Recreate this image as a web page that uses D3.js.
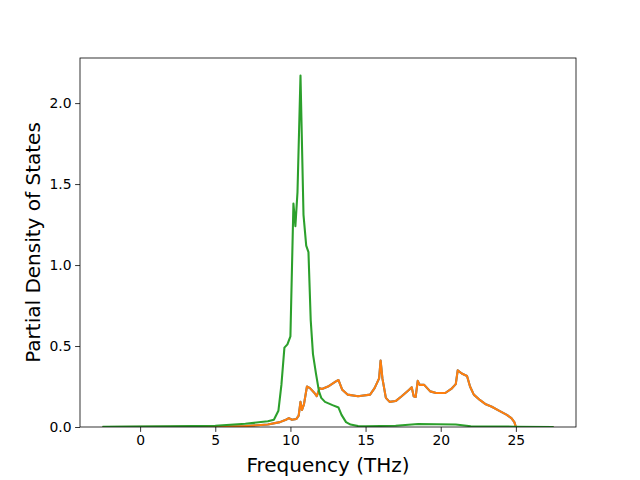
<!DOCTYPE html>
<html>
<head>
<meta charset="utf-8">
<script src="https://cdn.jsdelivr.net/npm/d3@7"></script>
<style>
  body { margin: 0; background: #fff; }
  svg text { font-family: "DejaVu Sans", sans-serif; fill: #000; }
</style>
</head>
<body>
<div id="chart"></div>
<script>
// frequency grid (THz) and partial DOS
var freqA = [-2.5, 2, 5, 7, 8.5, 9.3, 9.7, 9.9, 10.1, 10.4, 10.55, 10.67, 10.77, 10.9, 11.1, 11.3, 11.6, 11.75, 11.95, 12.1, 12.5, 13.0, 13.2, 13.45, 13.8, 14.5, 15.3, 15.6, 15.9, 16.0, 16.12, 16.35, 16.6, 17.0, 17.4, 17.9, 18.07, 18.2, 18.33, 18.47, 18.6, 18.9, 19.3, 19.7, 20.3, 20.7, 21.0, 21.13, 21.4, 21.75, 21.95, 22.2, 22.6, 23.0, 23.4, 23.9, 24.4, 24.7, 24.9, 25.0, 26, 27.5]
var pdosA = [0, 0.001, 0.003, 0.006, 0.015, 0.03, 0.045, 0.055, 0.045, 0.05, 0.07, 0.155, 0.105, 0.14, 0.25, 0.24, 0.21, 0.19, 0.24, 0.235, 0.25, 0.28, 0.29, 0.23, 0.2, 0.19, 0.2, 0.24, 0.3, 0.41, 0.3, 0.18, 0.155, 0.16, 0.19, 0.23, 0.245, 0.19, 0.185, 0.285, 0.26, 0.26, 0.22, 0.21, 0.21, 0.235, 0.265, 0.35, 0.33, 0.315, 0.25, 0.2, 0.167, 0.14, 0.125, 0.1, 0.075, 0.055, 0.03, 0, 0, 0]

var freqB = [-2.5, 2, 5, 7, 8.5, 8.9, 9.2, 9.4, 9.6, 9.8, 10.0, 10.2, 10.33, 10.47, 10.67, 10.87, 11.05, 11.2, 11.35, 11.5, 11.7, 11.9, 12.05, 12.3, 12.8, 13.2, 13.4, 13.7, 14.0, 14.5, 15.0, 17.0, 18.5, 21.0, 22.0, 25.0, 27.5]
var pdosB = [0.001, 0.004, 0.008, 0.02, 0.035, 0.045, 0.1, 0.26, 0.49, 0.51, 0.56, 1.38, 1.24, 1.45, 2.17, 1.31, 1.12, 1.08, 0.66, 0.45, 0.33, 0.22, 0.18, 0.155, 0.135, 0.12, 0.075, 0.03, 0.015, 0.006, 0.005, 0.008, 0.018, 0.015, 0.005, 0.002, 0]

var xTicks = [0, 5, 10, 15, 20, 25]
var yTicks = [0, 0.5, 1.0, 1.5, 2.0]

var colors = {
    blue: '#1f77b4',
    orange: '#ff7f0e',
    green: '#2ca02c'
}

var width = 640, height = 480,
    margins = {top: 58, right: 64, bottom: 53, left: 80},
    plotW = width - margins.left - margins.right,
    plotH = height - margins.top - margins.bottom

var svg = d3.select('#chart').append('svg')
    .attr('width', width)
    .attr('height', height)

var x = d3.scaleLinear().domain([-4, 29]).range([0, plotW])
var y = d3.scaleLinear().domain([0, 2.2785]).range([plotH, 0])

var g = svg.append('g')
    .attr('transform', 'translate(' + margins.left + ',' + margins.top + ')')

var clip = svg.append('clipPath').attr('id', 'clip')
    .append('rect').attr('width', plotW).attr('height', plotH)

var line = d3.line()
    .x(function(d) { return x(d[0]) })
    .y(function(d) { return y(d[1]) })

var seriesA = d3.zip(freqA, pdosA),
    seriesB = d3.zip(freqB, pdosB)

var lines = g.append('g').attr('clip-path', 'url(#clip)')
;[[seriesA, colors.blue], [seriesA, colors.orange], [seriesB, colors.green]].forEach(function(s) {
    lines.append('path')
        .datum(s[0])
        .attr('d', line)
        .attr('fill', 'none')
        .attr('stroke', s[1])
        .attr('stroke-width', 2.08)
        .attr('stroke-linejoin', 'round')
})

var xAxis = g.append('g')
    .attr('transform', 'translate(0,' + plotH + ')')
    .call(d3.axisBottom(x).tickValues(xTicks).tickFormat(d3.format('d')).tickSize(4.9).tickPadding(3.5))
var yAxis = g.append('g')
    .call(d3.axisLeft(y).tickValues(yTicks).tickFormat(d3.format('.1f')).tickSize(4.9).tickPadding(3.5))

;[xAxis, yAxis].forEach(function(a) {
    a.select('.domain').remove()
    a.selectAll('line').attr('stroke', '#000').attr('stroke-width', 0.8)
    a.selectAll('text').style('font-size', '13.9px').attr('fill', '#000')
})

g.append('rect')
    .attr('width', plotW).attr('height', plotH)
    .attr('fill', 'none').attr('stroke', '#000').attr('stroke-width', 0.8)

svg.append('text')
    .attr('x', margins.left + plotW / 2)
    .attr('y', 472)
    .attr('text-anchor', 'middle')
    .style('font-size', '20px')
    .text('Frequency (THz)')

svg.append('text')
    .attr('transform', 'translate(40,' + (margins.top + plotH / 2) + ') rotate(-90)')
    .attr('text-anchor', 'middle')
    .style('font-size', '20px')
    .text('Partial Density of States')
</script>
</body>
</html>
